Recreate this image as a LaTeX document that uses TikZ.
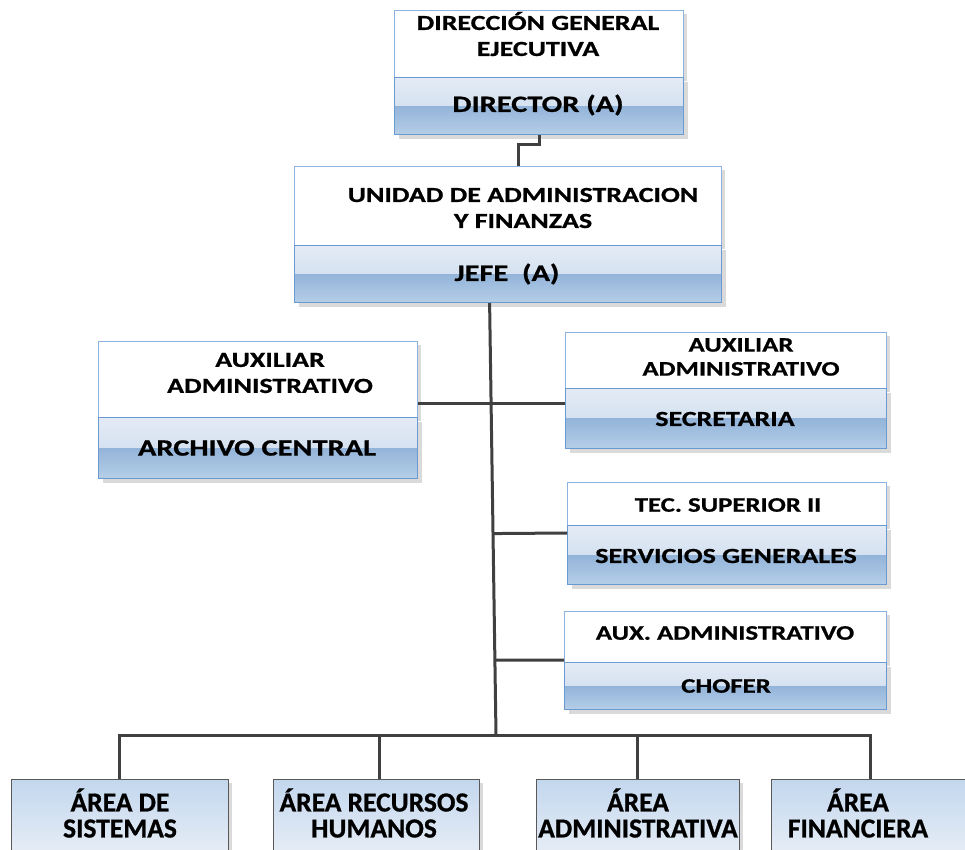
\documentclass[tikz,border=0pt]{standalone}
\usepackage{fontspec}
\setmainfont{Carlito}
\newfontfamily\headfont[FakeStretch=1.3,FakeBold=0.8]{Carlito}
\newfontfamily\areafont[FakeBold=0.8]{Carlito}
\usetikzlibrary{calc}

\definecolor{edgeblue}{HTML}{8DB3E2}
\definecolor{bandedge}{HTML}{6A9AD0}
\definecolor{bandtopA}{HTML}{E3EBF5}
\definecolor{bandtopB}{HTML}{C8D8EC}
\definecolor{bandlowA}{HTML}{93B4D9}
\definecolor{bandlowB}{HTML}{B6CEE8}
\definecolor{wire}{HTML}{404040}
\definecolor{shade}{HTML}{DADADA}
\definecolor{areatop}{HTML}{C3D7EE}
\definecolor{areabot}{HTML}{F0F3F8}
\definecolor{areaedge}{HTML}{595959}

\tikzset{
  shadowed/.style={preaction={fill=shade, transform canvas={xshift=4pt,yshift=-4pt}}},
  titlebox/.style={shadowed, rectangle, draw=edgeblue, line width=0.8pt, fill=white,
    inner sep=0pt, anchor=north west},
  rolebox/.style={shadowed, rectangle, draw=bandedge, line width=1.2pt, inner sep=0pt,
    anchor=north west,
    path picture={
      \fill[top color=bandtopA, bottom color=bandtopB]
        (path picture bounding box.north west) rectangle (path picture bounding box.east);
      \fill[top color=bandlowA, bottom color=bandlowB]
        (path picture bounding box.west) rectangle (path picture bounding box.south east);
    }},
  areabox/.style={shadowed, rectangle, draw=areaedge, line width=0.9pt, inner sep=0pt,
    anchor=north west, top color=areatop, bottom color=areabot},
  headtxt/.style={font=\headfont\bfseries\fontsize{21.5}{26}\selectfont, align=center,
    inner sep=0pt, text=black},
  headbig/.style={font=\headfont\bfseries\fontsize{23.4}{26}\selectfont, align=center,
    inner sep=0pt, text=black},
  headsmall/.style={font=\headfont\bfseries\fontsize{20.6}{24}\selectfont, align=center,
    inner sep=0pt, text=black},
  areatxt/.style={font=\areafont\bfseries\fontsize{27.5}{26}\selectfont, align=center,
    inner sep=0pt, text=black},
  wire/.style={draw=wire, line width=3pt}
}

\begin{document}
\begin{tikzpicture}[x=1pt,y=-1pt]
\fill[white] (0,0) rectangle (965,850);
\useasboundingbox (0,0) rectangle (965,850);

% Dirección general ejecutiva
\node[titlebox, minimum width=289pt, minimum height=67pt] (dgeTitle) at (394,10) {};
\node[rolebox, minimum width=289pt, minimum height=57pt] (dgeRole) at (394,77) {};
\node[headtxt] (dgeName) at (538,34) {DIRECCIÓN GENERAL\\EJECUTIVA};
\node[headbig] (dgeHead) at (538,105) {DIRECTOR (A)};

% Unidad de administración y finanzas
\node[titlebox, minimum width=427pt, minimum height=79pt] (uafTitle) at (294,166) {};
\node[rolebox, minimum width=427pt, minimum height=57pt] (uafRole) at (294,245) {};
\node[headtxt] (uafName) at (523,208) {UNIDAD DE ADMINISTRACION\\Y FINANZAS};
\node[headbig] (uafHead) at (507,274) {JEFE\ \ (A)};

% Archivo central
\node[titlebox, minimum width=319pt, minimum height=76pt] (archTitle) at (98,341) {};
\node[rolebox, minimum width=319pt, minimum height=61pt] (archRole) at (98,417) {};
\node[headtxt] (archName) at (270,373) {AUXILIAR\\ADMINISTRATIVO};
\node[headbig] (archHead) at (257,448) {ARCHIVO CENTRAL};

% Secretaría
\node[titlebox, minimum width=321pt, minimum height=56pt] (secTitle) at (565,332) {};
\node[rolebox, minimum width=321pt, minimum height=60pt] (secRole) at (565,388) {};
\node[headsmall] (secName) at (741,357) {AUXILIAR\\ADMINISTRATIVO};
\node[headtxt] (secHead) at (725,419) {SECRETARIA};

% Servicios generales
\node[titlebox, minimum width=319pt, minimum height=43pt] (sgTitle) at (567,482) {};
\node[rolebox, minimum width=319pt, minimum height=59pt] (sgRole) at (567,525) {};
\node[headsmall] (sgName) at (728,505) {TEC. SUPERIOR II};
\node[headtxt] (sgHead) at (726,556) {SERVICIOS GENERALES};

% Chofer
\node[titlebox, minimum width=322pt, minimum height=51pt] (chTitle) at (564,611) {};
\node[rolebox, minimum width=322pt, minimum height=47pt] (chRole) at (564,662) {};
\node[headsmall] (chName) at (725,633) {AUX. ADMINISTRATIVO};
\node[headsmall] (chHead) at (726,686) {CHOFER};

% Areas
\node[areabox, minimum width=217pt, minimum height=95pt] (areaSis) at (11,779) {};
\node[areabox, minimum width=206pt, minimum height=95pt] (areaRrhh) at (273,779) {};
\node[areabox, minimum width=203pt, minimum height=95pt] (areaAdm) at (536,779) {};
\node[areabox, minimum width=198pt, minimum height=95pt] (areaFin) at (771,779) {};
\node[areatxt] (areaSisTxt) at (120,813) {ÁREA DE\\SISTEMAS};
\node[areatxt] (areaRrhhTxt) at (374,813) {ÁREA RECURSOS\\HUMANOS};
\node[areatxt] (areaAdmTxt) at (638,813) {ÁREA\\ADMINISTRATIVA};
\node[areatxt] (areaFinTxt) at (858,813) {ÁREA\\FINANCIERA};

% Connectors
\draw[wire] (dgeRole.south) -- ++(0,9) -| ($(uafTitle.north)+(10.5,0)$);
\coordinate (trunkTop) at ($(uafRole.south)+(-18.5,0)$);
\coordinate (trunkBot) at (496,735);
\draw[wire] (trunkTop) -- (trunkBot);
\draw[wire] (archTitle.east |- 0,403) -- (secRole.west |- 0,403);
\draw[wire] ($(trunkTop)!0.5335!(trunkBot)$) -- (sgRole.west |- 0,533);
\draw[wire] ($(trunkTop)!0.8268!(trunkBot)$) -- (chRole.west |- 0,660);
\coordinate (busSis) at (areaSis.north |- trunkBot);
\coordinate (busRrhh) at ($(areaRrhh.north |- trunkBot)+(3,0)$);
\coordinate (dropRrhh) at ($(areaRrhh.north)+(3,0)$);
\coordinate (busAdm) at (areaAdm.north |- trunkBot);
\coordinate (busFin) at (areaFin.north |- trunkBot);
\draw[wire, line cap=rect] (busSis) -- (busFin);
\draw[wire] (busSis) -- (areaSis.north);
\draw[wire] (busRrhh) -- (dropRrhh);
\draw[wire] (busAdm) -- (areaAdm.north);
\draw[wire] (busFin) -- (areaFin.north);
\end{tikzpicture}
\end{document}
